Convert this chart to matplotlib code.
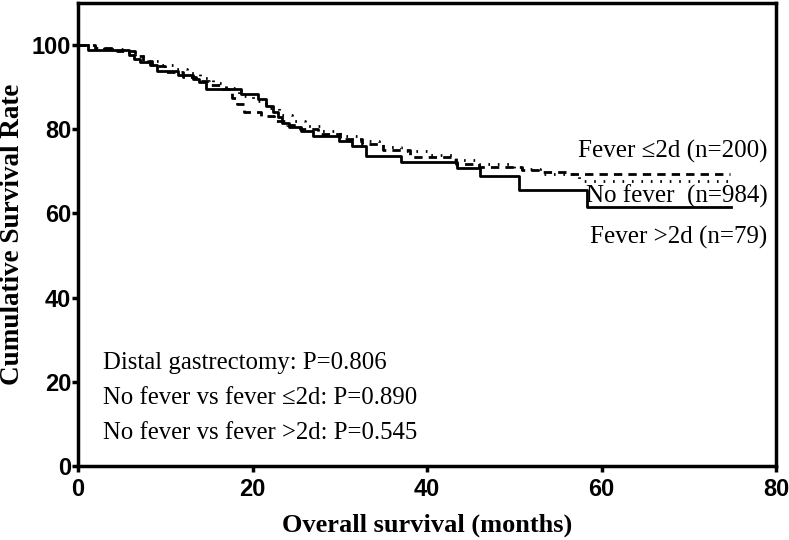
import matplotlib
matplotlib.use("Agg")
import matplotlib.pyplot as plt

# Kaplan-Meier style step curves (months, survival %)
fever_long_t = [0, 1.2, 5.9, 6.4, 7.1, 8.2, 9.0, 11.5, 13.2, 13.9, 14.7, 18.7, 20.6, 21.6,
                22.3, 22.9, 23.4, 24.2, 25.6, 26.9, 29.9, 31.4, 33.0, 37.0, 43.4, 46.1,
                50.5, 58.3, 74.8]
fever_long_s = [100, 98.8, 97.7, 96.7, 95.9, 95.2, 93.9, 92.9, 91.9, 91.2, 89.6, 88.3, 87.1,
                85.5, 84.0, 82.8, 81.6, 80.6, 79.6, 78.3, 77.2, 76.0, 73.6, 72.3, 70.7, 69.0,
                65.5, 61.5, 61.5]

fever_short_t = [0, 2.0, 4.5, 6.5, 7.5, 8.5, 10.0, 12.0, 13.5, 15.0, 16.5, 17.6, 18.2, 19.0,
                 21.0, 22.5, 24.0, 25.5, 27.5, 30.0, 32.5, 35.0, 38.0, 43.3, 46.0, 50.9,
                 53.0, 55.9, 74.7]
fever_short_s = [100, 99.3, 98.6, 97.4, 96.2, 95.0, 93.6, 92.5, 91.5, 90.6, 89.6, 87.5, 86.0,
                 84.0, 83.2, 82.0, 81.0, 80.0, 78.8, 77.6, 76.4, 75.0, 73.3, 71.7, 71.0,
                 70.3, 69.8, 69.3, 69.3]

no_fever_t = [0, 1.5, 3.0, 5.0, 6.5, 8.0, 9.5, 11.0, 12.5, 14.0, 15.5, 17.0, 18.5, 20.0,
              21.5, 23.0, 24.5, 26.0, 28.0, 30.0, 32.0, 34.5, 37.0, 40.0, 43.0, 46.0,
              50.0, 53.0, 57.4, 74.8]
no_fever_s = [100, 99.5, 99.0, 98.3, 97.3, 96.2, 95.2, 94.3, 93.3, 92.2, 91.0, 89.8, 88.0,
              86.8, 85.0, 83.5, 82.0, 80.8, 79.5, 78.4, 77.2, 75.8, 74.8, 74.0, 72.8, 71.8,
              70.5, 69.3, 67.7, 67.7]

group_labels = ["Fever \u22642d (n=200)", "No fever  (n=984)", "Fever >2d (n=79)"]
p_lines = ["Distal gastrectomy: P=0.806",
           "No fever vs fever \u22642d: P=0.890",
           "No fever vs fever >2d: P=0.545"]
xticks = [0, 20, 40, 60, 80]
yticks = [0, 20, 40, 60, 80, 100]

serif = ["Liberation Serif", "DejaVu Serif"]

fig = plt.figure(figsize=(7.89, 5.40), dpi=100)
ax = fig.add_axes([78/789, 74/540, 698/789, 463/540])

ax.step(fever_short_t, fever_short_s, where="post", color="black", lw=2.0,
        linestyle=(0, (3.0, 2.2)))
ax.step(no_fever_t, no_fever_s, where="post", color="black", lw=2.0,
        linestyle=(0, (0.6, 2.8)))
ax.step(fever_long_t, fever_long_s, where="post", color="black", lw=2.0)

ax.set_xlim(0, 80)
ax.set_ylim(0, 110)
ax.set_xticks(xticks)
ax.set_yticks(yticks)
for sp in ax.spines.values():
    sp.set_linewidth(2.5)
ax.tick_params(direction="out", length=4, width=2.5)
ax.tick_params(axis="x", pad=5)
ax.tick_params(axis="y", pad=1)
for lab in ax.get_xticklabels() + ax.get_yticklabels():
    lab.set_fontfamily("Liberation Sans")
    lab.set_fontweight("bold")
    lab.set_fontsize(17)

ax.set_xlabel("Overall survival (months)", fontfamily=serif, fontweight="bold",
              fontsize=19, labelpad=9)
ax.set_ylabel("Cumulative Survival Rate", fontfamily=serif, fontweight="bold",
              fontsize=19.5, labelpad=5)

# group labels on the right
for lab, yv in zip(group_labels, [74.8, 64.1, 54.3]):
    ax.text(79.0, yv, lab, ha="right", va="center", fontfamily=serif, fontsize=18)

# p-values bottom left
for line, yv in zip(p_lines, [24.5, 16.2, 7.9]):
    ax.text(2.86, yv, line, ha="left", va="center", fontfamily=serif, fontsize=17.8)

fig.savefig("out.png", dpi=100)
